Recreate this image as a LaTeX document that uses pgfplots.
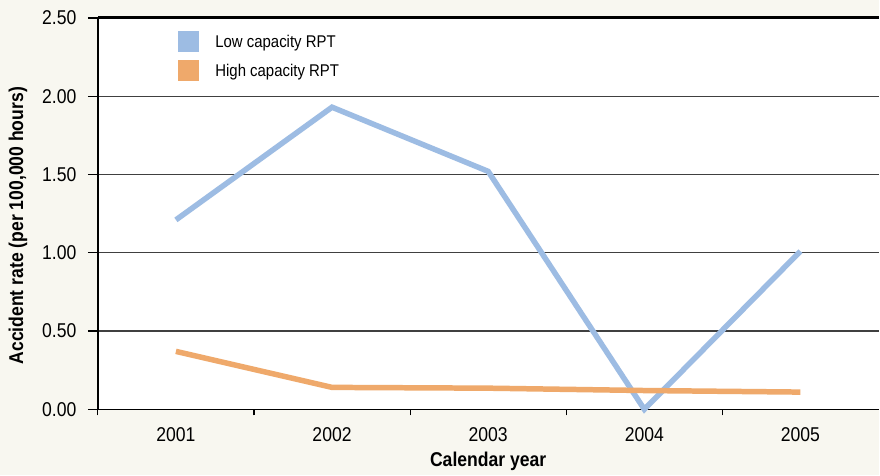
\documentclass[border=0pt]{standalone}
\usepackage{pgfplots}
\pgfplotsset{compat=1.18}
\usepackage{fontspec}
\setmainfont[FakeStretch=0.88]{Liberation Sans}
\definecolor{bgcream}{RGB}{248,247,240}
\definecolor{lowblue}{RGB}{157,188,227}
\definecolor{highorange}{RGB}{239,169,107}
\begin{document}
\begin{tikzpicture}
\fill[bgcream] (0,0) rectangle (880bp,476bp);
\begin{axis}[
  at={(98bp,66bp)}, anchor=south west,
  width=782bp, height=392bp, scale only axis,
  xmin=0.5, xmax=5.5, ymin=0, ymax=2.5,
  axis background/.style={fill=white},
  axis x line*=bottom, axis y line*=left,
  axis line style={-, line width=1.6bp, black},
  xtick={1,2,3,4,5},
  xticklabels={2001,2002,2003,2004,2005},
  every major x tick/.style={draw=none},
  minor xtick={0.5,1.5,2.5,3.5,4.5},
  every minor x tick/.style={draw=black, line width=1.2bp},
  minor tick length=6bp,
  ytick={0,0.5,1,1.5,2,2.5},
  yticklabel style={xshift=-8bp, /pgf/number format/.cd, fixed, fixed zerofill, precision=2},
  y tick style={line width=1.2bp, black},
  major tick length=10bp,
  tick align=outside,
  ymajorgrids,
  major grid style={line width=1.2bp, black!75},
  /pgf/number format/assume math mode=true,
  ticklabel style={font=\fontsize{20bp}{22bp}\selectfont},
  xticklabel style={yshift=-5bp},
  xlabel={\bfseries Calendar year},
  ylabel={\bfseries Accident rate (per 100,000 hours)},
  xlabel style={font=\fontsize{20bp}{22bp}\selectfont, at={(axis description cs:0.5,0)}, anchor=center, yshift=-52bp},
  ylabel style={font=\fontsize{20bp}{22bp}\selectfont, at={(axis description cs:-0.1023,0.469)}, anchor=center},
  legend style={at={(0.102,0.967)}, anchor=north west, draw=none, fill=none,
    inner sep=0pt, row sep=8bp, font=\fontsize{17bp}{19bp}\selectfont,
    nodes={inner sep=0pt, text depth=0pt}},
  legend cell align=left,
  legend image code/.code={\fill[draw=none] (0bp,-10.5bp) rectangle (21bp,10.5bp); \path (35bp,0);},
  clip=false,
]
\addplot[color=lowblue, line width=5.5bp] coordinates {
  (1,1.21) (2,1.93) (3,1.52) (4,0.00) (5,1.01)
};
\addplot[color=highorange, line width=5.5bp] coordinates {
  (1,0.37) (2,0.14) (3,0.135) (4,0.12) (5,0.11)
};
\legend{Low capacity RPT, High capacity RPT}
\draw[line width=3bp, black] (axis cs:0.5,2.5) -- (axis cs:5.5,2.5);
\end{axis}
\end{tikzpicture}
\end{document}
